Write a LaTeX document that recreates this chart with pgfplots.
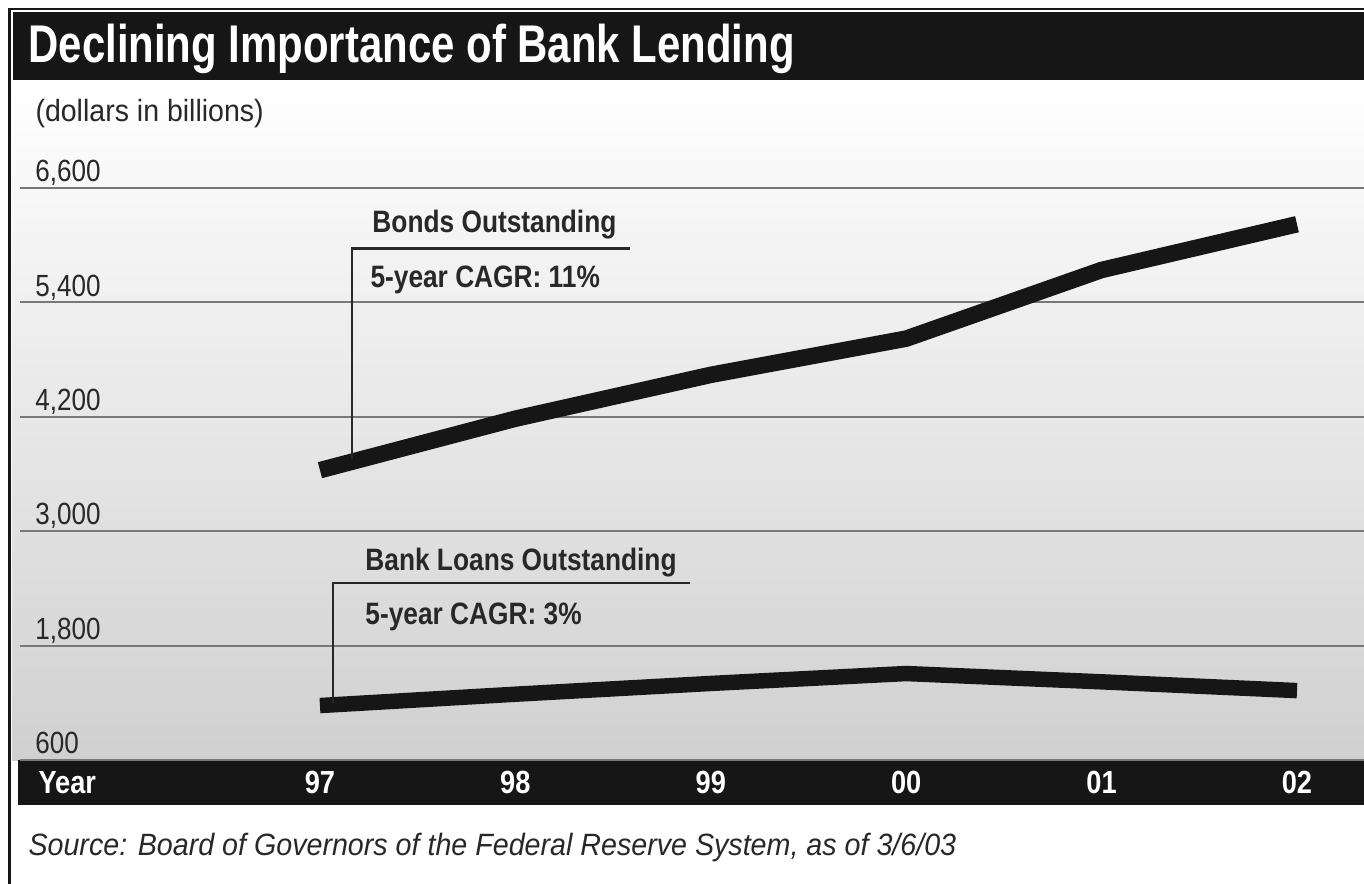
\documentclass[border=0pt]{standalone}
\usepackage{fontspec}
\setmainfont{Liberation Sans}[FakeStretch=0.93]
\newfontfamily\titlefont{Liberation Sans}[FakeStretch=0.79]
\newfontfamily\annfont{Liberation Sans}[FakeStretch=0.85]
\newfontfamily\tickfont{Liberation Sans}[FakeStretch=0.85]
\usepackage{pgfplots}
\pgfplotsset{compat=1.18}
\definecolor{bgrey}{RGB}{208,208,208}
\definecolor{gridc}{RGB}{120,120,120}
\definecolor{ink}{RGB}{22,22,22}
\definecolor{txt}{RGB}{40,40,40}
\begin{document}
\begin{tikzpicture}
\useasboundingbox (0,0) rectangle (511.5pt,-331.5pt);
\begin{scope}[x=0.375pt,y=-0.375pt]
 \shade[top color=white, middle color=white, bottom color=bgrey] (12,82) rectangle (1364,760);
 \draw[ink, line width=1.1pt] (1364,9) -- (9.5,9) -- (9.5,884);
 \fill[ink] (13,12) rectangle (1364,80);
 \node[anchor=base west, text=white, font=\titlefont\bfseries\fontsize{19.9pt}{22pt}\selectfont, inner sep=0pt] at (28,63) {Declining Importance of Bank Lending};
 \fill[ink] (18,760) rectangle (1364,805);
 \node[anchor=base west, text=white, font=\annfont\bfseries\fontsize{12pt}{14pt}\selectfont, inner sep=0pt] at (38,793) {Year};
 \node[anchor=base west, text=txt, font=\fontsize{11.5pt}{13pt}\selectfont, inner sep=0pt] at (35,122) {(dollars in billions)};
 \node[anchor=base west, text=txt, font=\itshape\fontsize{11.55pt}{13pt}\selectfont, inner sep=0pt] at (28,855) {Source: Board of Governors of the Federal Reserve System, as of 3/6/03};
\end{scope}
\begin{axis}[
  at={(7.5pt,-285pt)}, anchor=south west,
  scale only axis, width=504pt, height=214.5pt,
  xmin=-1.535, xmax=5.343, ymin=600, ymax=6600,
  clip=false,
  axis line style={draw=none},
  major tick length=0pt,
  ymajorgrids,
  grid style={gridc, line width=0.75pt},
  ytick={600,1800,3000,4200,5400,6600},
  xtick={0,1,2,3,4,5},
  xticklabels={97,98,99,00,01,02},
  /pgf/number format/1000 sep={,},
  /pgf/number format/assume math mode=true,
  yticklabel style={anchor=base west, xshift=5.6pt, yshift=2.4pt, inner sep=0pt, text=txt, font=\tickfont\fontsize{11.5pt}{13pt}\selectfont},
  xticklabel style={anchor=base, yshift=-12.4pt, inner sep=0pt, text=white, font=\annfont\bfseries\fontsize{12pt}{14pt}\selectfont},
]
\addplot[ink, line width=6.2pt, line join=round] coordinates {(0,3640) (1,4180) (2,4640) (3,5020) (4,5740) (5,6220)};
\addplot[ink, line width=5.8pt, line join=round] coordinates {(0,1171) (1,1290) (2,1403) (3,1507) (4,1420) (5,1328)};
\draw[txt, line width=0.9pt] (axis cs:0.164,3760) |- (axis cs:1.586,5966);
\draw[txt, line width=0.9pt] (axis cs:0.0665,1200) |- (axis cs:1.894,2455);
\node[anchor=base west, text=txt, font=\annfont\bfseries\fontsize{11.6pt}{13pt}\selectfont, inner sep=0pt] at (axis cs:0.266,6133) {Bonds Outstanding};
\node[anchor=base west, text=txt, font=\annfont\bfseries\fontsize{11.6pt}{13pt}\selectfont, inner sep=0pt] at (axis cs:0.256,5557) {5-year CAGR: 11\%};
\node[anchor=base west, text=txt, font=\annfont\bfseries\fontsize{11.6pt}{13pt}\selectfont, inner sep=0pt] at (axis cs:0.23,2591) {Bank Loans Outstanding};
\node[anchor=base west, text=txt, font=\annfont\bfseries\fontsize{11.6pt}{13pt}\selectfont, inner sep=0pt] at (axis cs:0.23,2025) {5-year CAGR: 3\%};
\end{axis}
\end{tikzpicture}
\end{document}
